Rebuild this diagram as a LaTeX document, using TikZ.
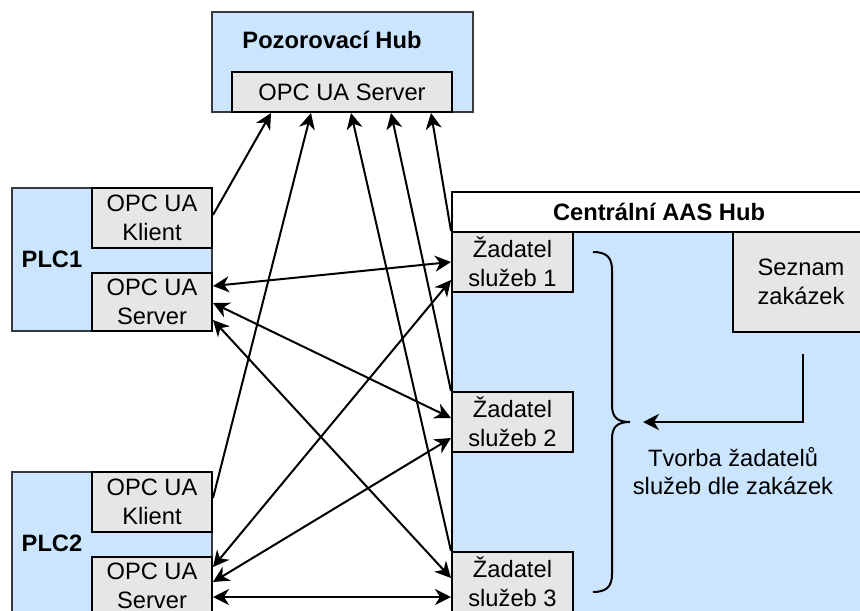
\documentclass[tikz,border=0pt]{standalone}
\usepackage{fontspec}
\setmainfont{Liberation Sans}
\usetikzlibrary{arrows.meta,calc}
\definecolor{paleblue}{HTML}{CCE5FF}
\definecolor{boxgray}{HTML}{E6E6E6}
\definecolor{edgegray}{HTML}{36393D}
\begin{document}
\begin{tikzpicture}[x=0.5pt,y=-0.5pt,
  font=\fontsize{11.85}{14.4}\selectfont,
  container/.style={draw=edgegray,fill=paleblue,line width=1pt,rectangle,inner sep=0pt},
  unit/.style={draw=black,fill=boxgray,line width=1pt,rectangle,inner sep=0pt,align=center},
  title/.style={font=\fontsize{11.85}{14.4}\selectfont\bfseries,inner sep=0pt,align=center},
  link/.style={line width=1pt,-{Stealth[length=8pt,width=8pt,inset=2.5pt]}},
  duplex/.style={line width=1pt,{Stealth[length=8pt,width=8pt,inset=2.5pt]}-{Stealth[length=8pt,width=8pt,inset=2.5pt]}}
]
\useasboundingbox (0,0) rectangle (860,610);
\clip (0,0) rectangle (860,610);

% observation hub
\node[container,minimum width=130.5pt,minimum height=50pt] (hub) at (342.5,62) {};
\node[title] (hubtitle) at (332,40) {Pozorovací Hub};
\node[unit,minimum width=110pt,minimum height=20pt] (hubsrv) at (342,92) {OPC UA Server};

% PLC 1
\node[container,minimum width=100pt,minimum height=71.5pt] (plc1) at (112,259.5) {};
\node[title] (plc1label) at (52,259.5) {PLC1};
\node[unit,minimum width=60pt,minimum height=30pt] (plc1cl) at (152,218) {OPC UA\\Klient};
\node[unit,minimum width=60pt,minimum height=29pt] (plc1sv) at (152,302) {OPC UA\\Server};

% PLC 2
\node[container,minimum width=100pt,minimum height=71.5pt] (plc2) at (112,543.5) {};
\node[title] (plc2label) at (52,543.5) {PLC2};
\node[unit,minimum width=60pt,minimum height=30pt] (plc2cl) at (152,502) {OPC UA\\Klient};
\node[unit,minimum width=60pt,minimum height=29pt] (plc2sv) at (152,586) {OPC UA\\Server};

% central AAS hub
\node[draw=black,fill=paleblue,line width=1pt,inner sep=0pt,minimum width=207pt,minimum height=254pt] (aas) at (659,446) {};
\node[draw=black,fill=white,line width=1pt,inner sep=0pt,minimum width=207pt,minimum height=20pt,font=\fontsize{11.85}{14.4}\selectfont\bfseries] (aastitle) at (659,212) {Centrální AAS Hub};
\node[unit,minimum width=60.5pt,minimum height=30pt] (z1) at (512.5,262) {Žadatel\\služeb 1};
\node[unit,minimum width=60.5pt,minimum height=30pt] (z2) at (512.5,422) {Žadatel\\služeb 2};
\node[unit,minimum width=60.5pt,minimum height=30pt] (z3) at (512.5,582) {Žadatel\\služeb 3};
\node[unit,minimum width=68pt,minimum height=50pt] (seznam) at (801,282) {Seznam\\zakázek};
\node[inner sep=0pt,align=center] (tvorba) at (733,471) {Tvorba žadatelů\\služeb dle zakázek};

% curly brace grouping the requesters
\coordinate (brtop) at (593,252);
\coordinate (brtip) at (630,422);
\coordinate (brbot) at (593,592);
\draw[line width=1pt] (brtop) .. controls (607,252) and (612,258) .. (612,270)
  -- (612,405) .. controls (612,417) and (617,422) .. (brtip)
  .. controls (617,422) and (612,427) .. (612,439)
  -- (612,574) .. controls (612,586) and (607,592) .. (brbot);

% order list feeds the requester creation
\coordinate (ordstart) at ($(seznam.south)+(2,21)$);
\coordinate (ordend) at ($(brtip)+(13,0)$);
\draw[link] (ordstart) |- (ordend);

% clients and requesters report to the observation hub
\draw[link] ($(plc1cl.east)+(0,-3)$) -- ($(hubsrv.south west)+(40,0)$);
\draw[link] ($(plc2cl.east)+(0,-4)$) -- ($(hubsrv.south west)+(80,0)$);
\draw[link] (z3.north west) -- ($(hubsrv.south west)+(120,0)$);
\draw[link] (z2.north west) -- ($(hubsrv.south west)+(160,0)$);
\draw[link] (z1.north west) -- ($(hubsrv.south west)+(200,0)$);

% PLC servers <-> service requesters
\draw[duplex] ($(plc1sv.east)+(0,-16)$) -- (z1.west);
\draw[duplex] ($(plc1sv.east)+(0,1)$) -- ($(z2.west)+(0,-4)$);
\draw[duplex] ($(plc1sv.east)+(0,18)$) -- ($(z3.west)+(0,-4)$);
\draw[duplex] ($(plc2sv.east)+(0,-19)$) -- ($(z1.west)+(0,18)$);
\draw[duplex] ($(plc2sv.east)+(0,-4)$) -- ($(z2.west)+(0,16)$);
\draw[duplex] ($(plc2sv.east)+(0,11)$) -- ($(z3.west)+(0,15)$);
\end{tikzpicture}
\end{document}
